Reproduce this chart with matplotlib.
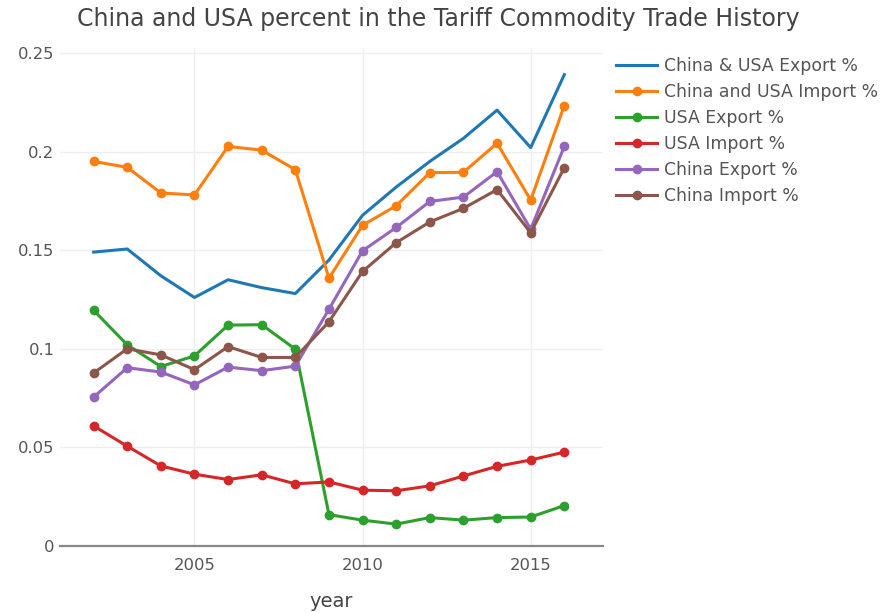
import matplotlib.pyplot as plt

# Data
years = list(range(2002, 2017))
china_usa_export = [0.149, 0.1506, 0.137, 0.126, 0.135, 0.131, 0.128, 0.145, 0.1677,
                    0.182, 0.195, 0.2067, 0.221, 0.202, 0.239]
china_usa_import = [0.195, 0.192, 0.179, 0.178, 0.2026, 0.2007, 0.1908, 0.1358, 0.1626,
                    0.1725, 0.1893, 0.1895, 0.2042, 0.1754, 0.2233]
usa_export = [0.1195, 0.102, 0.091, 0.0964, 0.112, 0.1122, 0.0998, 0.0159, 0.0131,
              0.0111, 0.0144, 0.0131, 0.0144, 0.0147, 0.0205]
usa_import = [0.0609, 0.0506, 0.0406, 0.0364, 0.0337, 0.0361, 0.0315, 0.0325, 0.0283,
              0.028, 0.0305, 0.0355, 0.0404, 0.0436, 0.0476]
china_export = [0.0755, 0.0904, 0.0882, 0.0817, 0.0907, 0.0889, 0.0912, 0.120, 0.1497,
                0.1615, 0.1747, 0.1769, 0.1898, 0.1606, 0.2026]
china_import = [0.0877, 0.100, 0.0969, 0.0894, 0.1011, 0.0956, 0.0956, 0.1137, 0.1392,
                0.1538, 0.1643, 0.1712, 0.1807, 0.1588, 0.1918]

plt.rcParams['font.family'] = ['DejaVu Sans']

fig = plt.figure(figsize=(8.9, 6.13), dpi=100)
ax = fig.add_axes([0.0674, 0.1093, 0.6101, 0.8124])

ax.plot(years, china_usa_export, color='#1f77b4', lw=2.2, label='China & USA Export %')
ax.plot(years, china_usa_import, color='#ff7f0e', lw=2.2, marker='o', ms=6, label='China and USA Import %')
ax.plot(years, usa_export, color='#2ca02c', lw=2.2, marker='o', ms=6, label='USA Export %')
ax.plot(years, usa_import, color='#d62728', lw=2.2, marker='o', ms=6, label='USA Import %')
ax.plot(years, china_export, color='#9467bd', lw=2.2, marker='o', ms=6, label='China Export %')
ax.plot(years, china_import, color='#8c564b', lw=2.2, marker='o', ms=6, label='China Import %')

ax.set_xlim(2001.0, 2017.15)
ax.set_ylim(0, 0.2525)
ax.set_xticks([2005, 2010, 2015])
ax.set_yticks([0, 0.05, 0.1, 0.15, 0.2, 0.25])
ax.set_yticklabels(['0', '0.05', '0.1', '0.15', '0.2', '0.25'])
ax.grid(True, color='#eeeeee', lw=1)
ax.set_axisbelow(True)
for s in ['top', 'right', 'left']:
    ax.spines[s].set_visible(False)
ax.spines['bottom'].set_color('#888888')
ax.spines['bottom'].set_linewidth(1.6)
ax.tick_params(length=0, labelsize=11.8, colors='#555555')
ax.tick_params(axis='y', pad=4)
ax.tick_params(axis='x', pad=9)

ax.set_xlabel('year', fontsize=14, color='#444444', labelpad=13)
fig.suptitle('China and USA percent in the Tariff Commodity Trade History',
             fontsize=17, color='#444444', x=0.493, y=0.988)

leg = ax.legend(loc='upper left', bbox_to_anchor=(1.008, 1.0), frameon=False,
                fontsize=12.4, labelcolor='#555555', handlelength=2.4,
                handletextpad=0.4, labelspacing=0.47, borderaxespad=0.1)

fig.savefig('out.png', dpi=100)
